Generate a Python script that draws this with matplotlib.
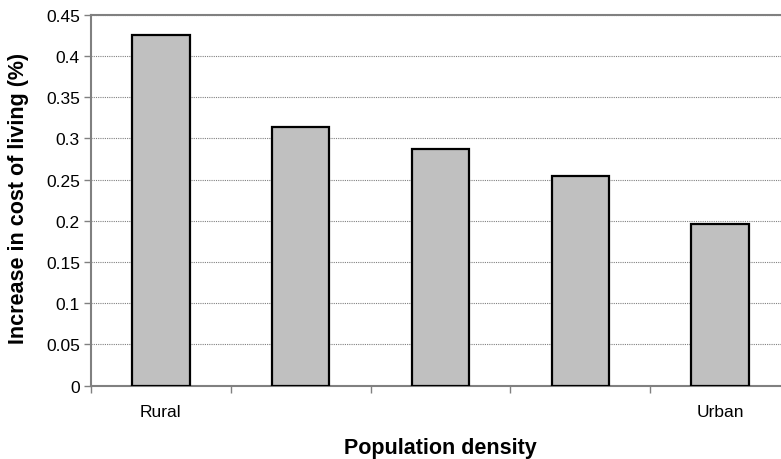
import matplotlib
matplotlib.use("Agg")
import matplotlib.pyplot as plt
from matplotlib.ticker import FixedLocator, FuncFormatter

# data
categories = ["Rural", "", "", "", "Urban"]
cost_increase = [0.425, 0.314, 0.287, 0.254, 0.196]
y_ticks = [0, 0.05, 0.1, 0.15, 0.2, 0.25, 0.3, 0.35, 0.4, 0.45]

plt.rcParams["font.family"] = ["Liberation Sans", "DejaVu Sans"]

fig = plt.figure(figsize=(7.81, 4.60), dpi=100)
# plot area runs a little past the right edge of the canvas
ax = fig.add_axes([91 / 781, 1 - 386.7 / 460, 699 / 781, 371 / 460])

x = list(range(len(categories)))
ax.bar(x, cost_increase, width=0.41, color="#C0C0C0", edgecolor="black",
       linewidth=1.6, zorder=3)

ax.set_xlim(-0.5, len(categories) - 0.5)
ax.set_ylim(0, 0.45)

# y axis
ax.yaxis.set_major_locator(FixedLocator(y_ticks))
ax.yaxis.set_major_formatter(FuncFormatter(lambda v, _: f"{v:g}"))
ax.tick_params(axis="y", direction="out", length=5, width=1, color="#808080",
               labelsize=12.5, pad=3)
ax.grid(axis="y", color="#808080", linestyle=(0, (1, 1)), linewidth=0.8, zorder=1)

# x axis: labels at category centres, tick marks between categories
ax.set_xticks(x)
ax.set_xticklabels(categories, fontsize=12.5)
ax.tick_params(axis="x", which="major", length=0, pad=13)
ax.set_xticks([i - 0.5 for i in x], minor=True)
ax.tick_params(axis="x", which="minor", direction="out", length=5, width=1,
               color="#808080")

for side in ["left", "top", "bottom"]:
    ax.spines[side].set_color("#808080")
    ax.spines[side].set_linewidth(1.5)
ax.spines["right"].set_visible(False)

fig.text(19 / 781, 1 - 198.5 / 460, "Increase in cost of living (%)",
         rotation=90, ha="center", va="center", fontsize=15.5, fontweight="bold")
ax.set_xlabel("Population density", fontsize=15.5, fontweight="bold", labelpad=13)

fig.savefig("out.png", dpi=100)
